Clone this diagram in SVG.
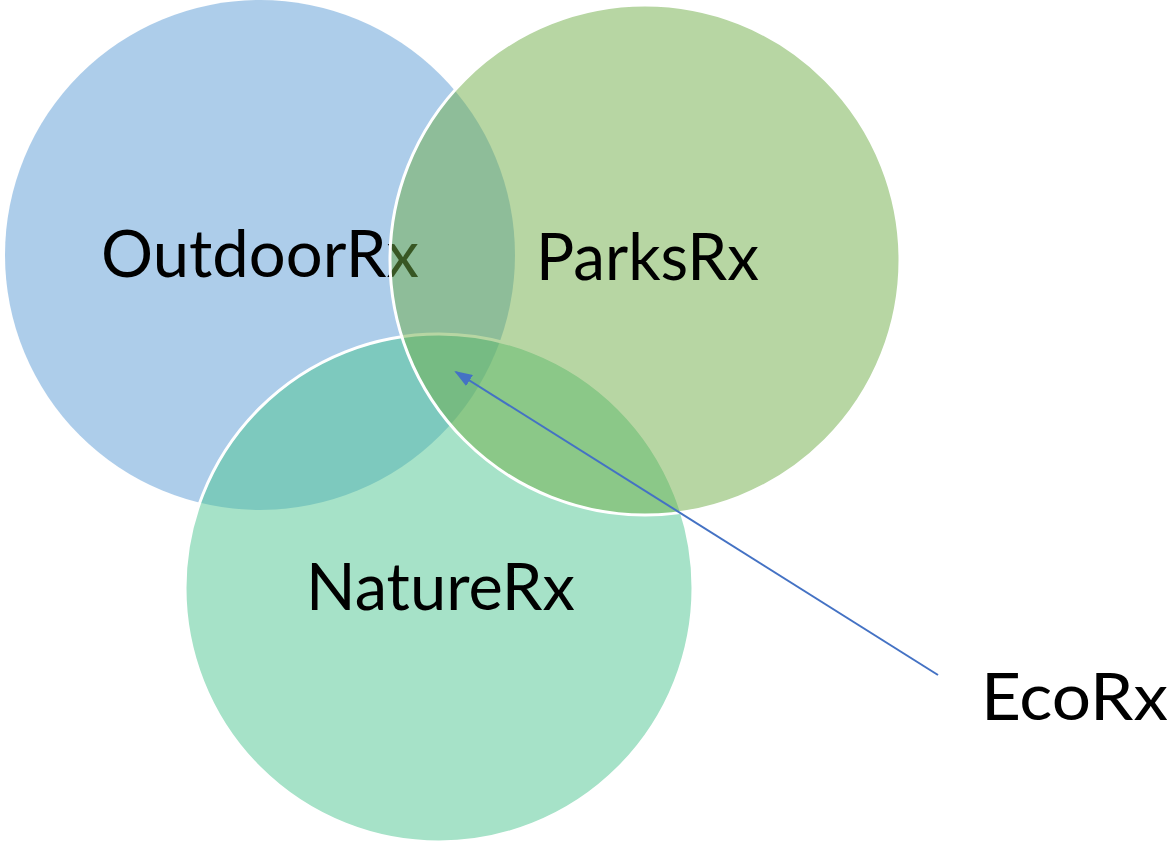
<svg xmlns="http://www.w3.org/2000/svg" width="1169" height="845" viewBox="0 0 1169 845">
  <style>
    .set { fill-opacity: 0.5; }
    .edge { stroke: #FFFFFF; stroke-width: 3; }
    .label { font-family: Lato, "Liberation Sans", sans-serif; font-size: 66px; fill: #000000; }
    .link { stroke: #4472C4; stroke-width: 2; fill: none; }
  </style>
  <defs>
    <marker id="arrowHead" viewBox="0 0 18 13" refX="16" refY="6.5" markerWidth="18" markerHeight="13" markerUnits="userSpaceOnUse" orient="auto">
      <path d="M0,0 L18,6.5 L0,13 Z" fill="#4472C4"/>
    </marker>
  </defs>
  <rect width="1169" height="845" fill="#FFFFFF"/>

  <!-- Venn sets, painted in stacking order -->
  <g id="outdoor-rx">
    <circle class="set" cx="260" cy="255" r="255" fill="#5B9BD5"/>
    <text class="label" x="101" y="277" textLength="318" lengthAdjust="spacingAndGlyphs">OutdoorRx</text>
  </g>
  <g id="nature-rx">
    <circle class="set edge" cx="439" cy="588" r="254" fill="#4DC591"/>
    <text class="label" x="306" y="610" textLength="269" lengthAdjust="spacingAndGlyphs">NatureRx</text>
  </g>
  <g id="parks-rx">
    <circle class="set edge" cx="645" cy="260" r="255" fill="#70AD47"/>
    <text class="label" x="536" y="280" textLength="223" lengthAdjust="spacingAndGlyphs">ParksRx</text>
  </g>

  <!-- callout for the shared centre -->
  <g id="eco-rx">
    <text class="label" x="981" y="720" textLength="187" lengthAdjust="spacingAndGlyphs">EcoRx</text>
  </g>

  <g id="connectors">
    <line class="link" x1="938" y1="675" x2="456" y2="372" marker-end="url(#arrowHead)"/>
  </g>
</svg>
